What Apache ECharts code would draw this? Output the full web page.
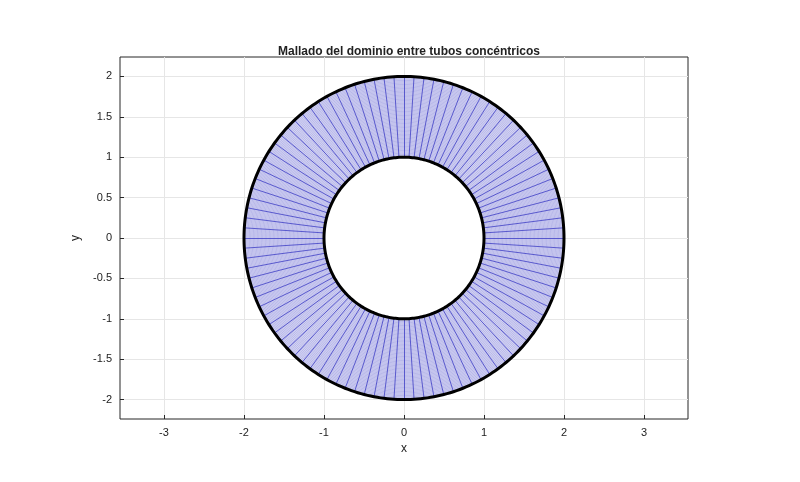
<!DOCTYPE html>
<html>
<head>
<meta charset="utf-8">
<script src="https://cdn.jsdelivr.net/npm/echarts@6/dist/echarts.min.js"></script>
<style>html,body{margin:0;background:#fff}#main{width:800px;height:482px}</style>
</head>
<body>
<div id="main"></div>
<script>
// mesh definition
var rInner = 1, rOuter = 2;
var nTheta = 100;     // radial lines
var nRings = 60;      // circumferential lines
var xTicks = [-3, -2, -1, 0, 1, 2, 3];
var yTicks = [-2, -1.5, -1, -0.5, 0, 0.5, 1, 1.5, 2];

function circle(r, n) {
  var pts = [];
  for (var i = 0; i <= n; i++) {
    var t = 2 * Math.PI * i / n;
    pts.push([r * Math.cos(t), r * Math.sin(t)]);
  }
  return pts;
}

var ringLines = [], radialLines = [];
for (var k = 0; k <= nRings; k++) {
  ringLines.push({coords: circle(rInner + (rOuter - rInner) * k / nRings, 200)});
}
for (var j = 0; j < nTheta; j++) {
  var t = 2 * Math.PI * j / nTheta;
  radialLines.push({coords: [[rInner * Math.cos(t), rInner * Math.sin(t)], [rOuter * Math.cos(t), rOuter * Math.sin(t)]]});
}

var font = 'Liberation Sans';
var gridLines = [];
xTicks.forEach(function (v) { gridLines.push({xAxis: v}); });
yTicks.forEach(function (v) { gridLines.push({yAxis: v}); });

var option = {
  animation: false,
  title: {text: 'Mallado del dominio entre tubos concéntricos', left: 404, top: 41, textAlign: 'center',
    textStyle: {fontFamily: font, fontSize: 12, fontWeight: 'bold', color: '#222'}},
  grid: {left: 120, right: 112, top: 57, bottom: 63, show: true, borderColor: '#262626', borderWidth: 1},
  xAxis: {type: 'value', min: -3.55, max: 3.55, name: 'x', nameLocation: 'middle', nameGap: 19,
    nameTextStyle: {fontFamily: font, fontSize: 12, color: '#222'},
    axisLine: {show: false, onZero: false}, splitLine: {show: false},
    axisTick: {show: true, inside: true, length: 4, customValues: xTicks, lineStyle: {color: '#262626'}},
    axisLabel: {customValues: xTicks, fontFamily: font, fontSize: 11, color: '#222', margin: 8}},
  yAxis: {type: 'value', min: -2.24, max: 2.24, name: 'y', nameLocation: 'middle', nameGap: 30,
    nameTextStyle: {fontFamily: font, fontSize: 12, color: '#222'},
    axisLine: {show: false, onZero: false}, splitLine: {show: false},
    axisTick: {show: true, inside: true, length: 4, customValues: yTicks, lineStyle: {color: '#262626'}},
    axisLabel: {customValues: yTicks, fontFamily: font, fontSize: 11, color: '#222', margin: 8}},
  series: [
    {type: 'scatter', data: [], z: 0, markLine: {silent: true, symbol: ['none', 'none'], label: {show: false}, z: 0,
      lineStyle: {color: '#e6e6e6', type: 'solid', width: 1}, data: gridLines}},
    {type: 'custom', renderItem: function (params, api) {
      var outer = circle(rOuter, 200).map(function (p) { return api.coord(p); });
      var inner = circle(rInner, 200).map(function (p) { return api.coord(p); });
      return {type: 'group', children: [
        {type: 'polygon', shape: {points: outer}, style: {fill: '#d8d8f4'}},
        {type: 'polygon', shape: {points: inner}, style: {fill: '#ffffff'}}
      ]};
    }, data: [0], z: 10},
    {type: 'lines', coordinateSystem: 'cartesian2d', polyline: true, data: ringLines, z: 11,
      lineStyle: {color: '#7070d0', width: 0.5, opacity: 0.6}},
    {type: 'lines', coordinateSystem: 'cartesian2d', polyline: false, data: radialLines, z: 12,
      lineStyle: {color: '#3030c0', width: 0.8, opacity: 0.9}},
    {type: 'lines', coordinateSystem: 'cartesian2d', polyline: true, z: 13,
      data: [{coords: circle(rOuter, 300)}, {coords: circle(rInner, 300)}],
      lineStyle: {color: '#000', width: 3, opacity: 1}}
  ]
};
echarts.init(document.getElementById('main')).setOption(option);
</script>
</body>
</html>
